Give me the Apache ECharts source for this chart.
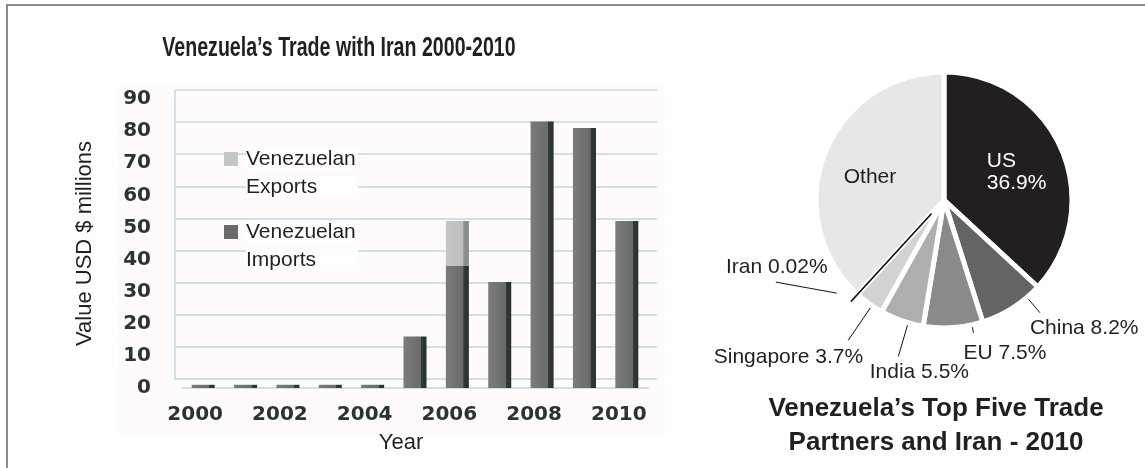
<!DOCTYPE html>
<html>
<head>
<meta charset="utf-8">
<script src="https://cdn.jsdelivr.net/npm/echarts@6/dist/echarts.min.js"></script>
<style>
html,body{margin:0;padding:0;background:#fff;}
#chart{width:1145px;height:468px;}
</style>
</head>
<body>
<div id="chart"></div>
<script>
// ---- data ----
const years = ['2000','2001','2002','2003','2004','2005','2006','2007','2008','2009','2010'];
const importsVals = [1, 1, 1, 1, 1, 16, 38, 33, 83, 81, 52];
const exportsVals = [0, 0, 0, 0, 0, 0, 14, 0, 0, 0, 0];
const seriesNames = ['Venezuelan Exports', 'Venezuelan Imports'];

const partners = ['US', 'China', 'EU', 'India', 'Singapore', 'Iran', 'Other'];
const shares = [36.9, 8.2, 7.5, 5.5, 3.7, 0.02, 38.18];

const leftTitle = 'Venezuela\u2019s Trade with Iran 2000-2010';
const pieTitle = 'Venezuela\u2019s Top Five Trade\nPartners and Iran - 2010';

// ---- styles / layout ----
const sliceColors = {US:'#231f20', China:'#636466', EU:'#898a8c', India:'#adaeb0', Singapore:'#d2d3d5', Iran:'#ffffff', Other:'#e6e7e8'};
const C = [944, 200], R = 128;
const labelGeo = {
  US:        {dphi: 2.6,  r1: 78,  dx: -30, dy: 0,  align: 'left'},
  Other:     {dphi: -4,   r1: 77.5, dx: 0,  dy: 0,  align: 'center'},
  China:     {dphi: -8,   r1: 109, r2: 148, dx: -10, dy: 15, align: 'left'},
  EU:        {dphi: -8.4, r1: 101, r2: 136, dx: -10, dy: 20, align: 'left'},
  India:     {dphi: -3,   r1: 113, r2: 163, dx: 21,  dy: 16, align: 'center'},
  Singapore: {dphi: -1.5, r1: 114, r2: 170, dx: 15,  dy: 17, align: 'right'},
  Iran:      {dphi: 6.5,  r1: 142, r2: 142, ex: -61, ey: -11, dx: 1, dy: -15, align: 'center'}
};
const total = shares.reduce((a, b) => a + b, 0);
const mids = [];
(function(){ let acc = 0; shares.forEach(v => { mids.push(360 * (acc + v / 2) / total); acc += v; }); })();
function polar(r, deg) {
  const a = deg * Math.PI / 180;
  return [C[0] + r * Math.sin(a), C[1] - r * Math.cos(a)];
}

const SANS = "'Liberation Sans', Arial, sans-serif";
const AXISF = "'DejaVu Sans', Verdana, sans-serif";
const gridBlue = '#cfe0ea';

function hGrad(stops) {
  return {type: 'linear', x: 0, y: 0, x2: 1, y2: 0, colorStops: stops};
}
const importsFill = hGrad([
  {offset: 0, color: '#7b7b7b'}, {offset: 0.76, color: '#6a6a6a'},
  {offset: 0.77, color: '#323b37'}, {offset: 1, color: '#28302c'}]);
const exportsFill = hGrad([
  {offset: 0, color: '#c6c8c7'}, {offset: 0.76, color: '#bbbdbc'},
  {offset: 0.77, color: '#8f9391'}, {offset: 1, color: '#858987'}]);

const chart = echarts.init(document.getElementById('chart'), null, {renderer: 'canvas'});

const option = {
  animation: false,
  backgroundColor: '#ffffff',
  graphic: [
    {type: 'rect', z: -10, shape: {x: 118, y: 84, width: 546, height: 352}, style: {fill: '#fefbfa'}},
    {type: 'line', shape: {x1: 6, y1: 5, x2: 1145, y2: 5}, style: {stroke: '#8a8a8a', lineWidth: 2}},
    {type: 'line', shape: {x1: 7, y1: 5, x2: 7, y2: 468}, style: {stroke: '#8a8a8a', lineWidth: 2}},
    {type: 'text', x: 339, y: 48, scaleX: 0.70, originX: 0, originY: 0,
     style: {text: leftTitle, align: 'center', verticalAlign: 'middle',
             font: 'bold 28px ' + SANS, fill: '#231f20'}}
  ],
  title: [
    {text: pieTitle, left: 936, top: 392, textAlign: 'center', padding: 0,
     textStyle: {fontFamily: SANS, fontSize: 26, fontWeight: 'bold', color: '#231f20', lineHeight: 34}}
  ],
  legend: {
    data: seriesNames,
    left: 219, top: 145, orient: 'vertical', padding: 0, itemGap: 17,
    itemWidth: 0, itemHeight: 0, icon: 'rect', selectedMode: false,
    formatter: function (name) {
      const key = name.indexOf('Exports') >= 0 ? 'ex' : 'im';
      const parts = name.split(' ');
      return '{' + key + '|}{gap|}{t|' + parts[0] + '}\n{pad|}{t|' + parts[1] + '}';
    },
    textStyle: {
      fontFamily: SANS, fontSize: 21, color: '#231f20', lineHeight: 28,
      rich: {
        ex: {width: 14, height: 14, backgroundColor: '#c5c7c6'},
        im: {width: 14, height: 14, backgroundColor: '#6b6b6b'},
        gap: {width: 8},
        pad: {width: 22},
        t: {fontFamily: SANS, fontSize: 21, color: '#231f20', lineHeight: 28, width: 112, backgroundColor: '#ffffff'}
      }
    }
  },
  grid: [
    {left: 182, top: 99, width: 466, height: 289},
    {left: 175, top: 90, width: 482, height: 289}
  ],
  xAxis: [
    {type: 'category', gridIndex: 0, data: years,
     axisTick: {show: false},
     axisLine: {show: true, lineStyle: {color: gridBlue, width: 2}},
     axisLabel: {interval: 1, margin: 17, fontFamily: AXISF, fontSize: 20, fontWeight: 'bold', color: '#2a3336', padding: [0, 16, 0, 0]},
     name: 'Year', nameLocation: 'middle', nameGap: 44,
     nameTextStyle: {fontFamily: SANS, fontSize: 22, color: '#231f20', padding: [0, 28, 0, 0]}},
    {type: 'value', gridIndex: 1, min: 0, max: 1, show: false}
  ],
  yAxis: [
    {type: 'value', gridIndex: 0, min: 0, max: 90, interval: 10,
     axisLine: {show: false}, axisTick: {show: false}, splitLine: {show: false},
     axisLabel: {margin: 31, fontFamily: AXISF, fontSize: 20, fontWeight: 'bold', color: '#2a3336'},
     name: 'Value USD $ millions', nameLocation: 'middle', nameGap: 86,
     nameTextStyle: {fontFamily: SANS, fontSize: 22, color: '#231f20'}},
    {type: 'value', gridIndex: 1, min: 0, max: 90, interval: 10,
     axisLine: {show: true, lineStyle: {color: gridBlue, width: 2}},
     axisTick: {show: false}, axisLabel: {show: false},
     splitLine: {show: true, lineStyle: {color: gridBlue, width: 2}}}
  ],
  series: [
    {name: seriesNames[1], type: 'bar', stack: 'trade', xAxisIndex: 0, yAxisIndex: 0,
     data: importsVals, barWidth: 23, itemStyle: {color: importsFill}, z: 3,
     emphasis: {disabled: true}},
    {name: seriesNames[0], type: 'bar', stack: 'trade', xAxisIndex: 0, yAxisIndex: 0,
     data: exportsVals, barWidth: 23, itemStyle: {color: exportsFill}, z: 3,
     emphasis: {disabled: true}},
    {type: 'pie', center: C, radius: [0, R], startAngle: 90, clockwise: true,
     avoidLabelOverlap: false, minShowLabelAngle: 0, emphasis: {disabled: true},
     data: partners.map((n, i) => ({
       name: n, value: shares[i],
       itemStyle: {color: sliceColors[n], borderColor: '#ffffff', borderWidth: (n === 'Iran' ? 0 : 5)},
       label: (n === 'US' || n === 'Other') ? {position: 'inside', color: n === 'US' ? '#ffffff' : '#231f20'} : {position: 'outside'},
       labelLine: {show: !(n === 'US' || n === 'Other')}
     })),
     label: {
       fontFamily: SANS, fontSize: 21, color: '#231f20', lineHeight: 22,
       formatter: function (p) {
         if (p.name === 'Other') return p.name;
         if (p.name === 'US') return p.name + '\n' + p.value + '%';
         return p.name + ' ' + p.value + '%';
       }
     },
     labelLine: {lineStyle: {color: '#111111', width: 1}},
     labelLayout: function (p) {
       const name = partners[p.dataIndex];
       const g = labelGeo[name];
       const phi = mids[p.dataIndex] + g.dphi;
       const a = polar(g.r1, phi);
       if (g.r2 == null) {
         return {x: a[0] + g.dx, y: a[1] + g.dy, align: g.align, verticalAlign: 'middle', hideOverlap: false};
       }
       const b = polar(g.r2, phi);
       b[0] += (g.ex || 0); b[1] += (g.ey || 0);
       return {x: b[0] + g.dx, y: b[1] + g.dy, align: g.align, verticalAlign: 'middle',
               labelLinePoints: [a, b], hideOverlap: false};
     }
    },
    {type: 'pie', center: C, radius: [19, 137], startAngle: 90, clockwise: true, silent: true, z: 5,
     label: {show: false}, labelLine: {show: false}, emphasis: {disabled: true},
     data: partners.map((n, i) => ({
       name: n, value: shares[i],
       itemStyle: n === 'Iran' ? {color: '#111111', borderColor: '#111111', borderWidth: 1.6}
                               : {color: 'rgba(0,0,0,0)', borderWidth: 0}
     }))
    }
  ]
};
chart.setOption(option);
</script>
</body>
</html>
